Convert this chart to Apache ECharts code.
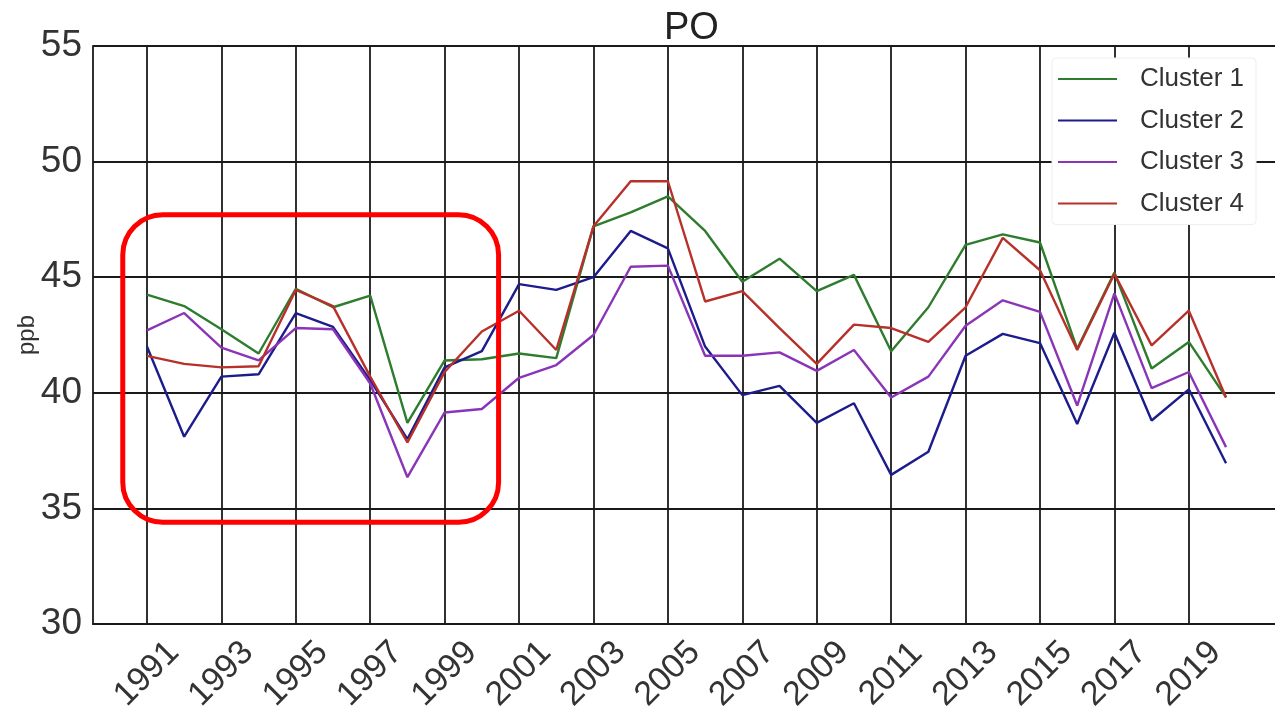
<!DOCTYPE html>
<html><head><meta charset="utf-8">
<script src="https://cdn.jsdelivr.net/npm/echarts@6/dist/echarts.min.js"></script>
<style>html,body{margin:0;padding:0;background:#fff}#c{width:1275px;height:706px}</style>
</head><body><div id="c"></div>
<script>
// ---- data ----
const years = [1991,1992,1993,1994,1995,1996,1997,1998,1999,2000,2001,2002,2003,2004,2005,2006,2007,2008,2009,2010,2011,2012,2013,2014,2015,2016,2017,2018,2019,2020];
const tickYears = [1991,1993,1995,1997,1999,2001,2003,2005,2007,2009,2011,2013,2015,2017,2019];
const yTicks = [30,35,40,45,50,55];
const seriesNames = ['Cluster 1','Cluster 2','Cluster 3','Cluster 4'];
const cluster1 = [44.25,43.75,42.75,41.7,44.5,43.7,44.2,38.7,41.4,41.45,41.7,41.5,47.2,47.8,48.5,47.0,44.8,45.8,44.4,45.1,41.8,43.7,46.4,46.85,46.5,41.9,45.2,41.05,42.2,39.8];
const cluster2 = [42.0,38.1,40.7,40.8,43.45,42.85,40.55,38.0,41.1,41.8,44.7,44.45,45.0,47.0,46.25,42.0,39.9,40.3,38.7,39.55,36.45,37.45,41.6,42.55,42.15,38.65,42.6,38.8,40.15,36.95];
const cluster3 = [42.7,43.45,41.95,41.4,42.8,42.75,40.4,36.35,39.15,39.3,40.65,41.2,42.5,45.45,45.5,41.6,41.6,41.75,40.95,41.85,39.8,40.7,42.9,44.0,43.5,39.45,44.3,40.2,40.9,37.65];
const cluster4 = [41.6,41.25,41.1,41.15,44.45,43.75,40.7,37.85,40.9,42.65,43.55,41.85,47.2,49.15,49.15,43.95,44.4,42.8,41.25,42.95,42.8,42.2,43.7,46.7,45.3,41.85,45.15,42.05,43.55,39.8];
const highlightYears = [1990.35, 2000.45];
const highlightValues = [34.4, 47.7];

const colors = ['#2e7d2e','#1c1c8c','#8a35b8','#b8302a'];
const FONT = 'Liberation Sans, Arial, sans-serif';
const allSeries = [cluster1, cluster2, cluster3, cluster4];

const chart = echarts.init(document.getElementById('c'), null, {renderer:'canvas'});
const option = {
  backgroundColor: '#fff',
  animation: false,
  title: {text: 'PO', left: 659, top: 5, textStyle: {fontSize: 38, fontWeight: 'normal', color: '#222', fontFamily: FONT}},
  legend: {
    orient: 'vertical', left: 1052, top: 58,
    icon: 'rect', itemWidth: 59, itemHeight: 2, itemGap: 11.5,
    padding: [6, 12, 6, 6],
    backgroundColor: '#fff', borderColor: '#eee', borderWidth: 1, borderRadius: 4,
    data: seriesNames,
    textStyle: {fontSize: 26, color: '#333', lineHeight: 30, padding: [0,0,0,18], fontFamily: FONT}
  },
  grid: {left: 93, top: 46, width: 1187, bottom: 82, containLabel: false, outerBoundsMode: 'none'},
  xAxis: {
    type: 'value', min: 1989.55, max: 2021.45,
    axisLine: {show: true, onZero: false, lineStyle: {color: '#1a1a1a', width: 1.8}},
    axisTick: {show: false, customValues: tickYears},
    axisLabel: {customValues: tickYears, rotate: 45, align: 'center', verticalAlign: 'middle', margin: 50,
      fontSize: 34, color: '#333', fontFamily: FONT, formatter: v => String(Math.round(v))},
    splitLine: {show: true, lineStyle: {color: '#1a1a1a', width: 1.8}}
  },
  yAxis: {
    type: 'value', min: yTicks[0], max: yTicks[yTicks.length-1], interval: 5,
    name: 'ppb', nameLocation: 'middle', nameGap: 54, nameMoveOverlap: false,
    nameTextStyle: {fontSize: 24, color: '#333', fontFamily: FONT},
    axisLine: {show: true, lineStyle: {color: '#1a1a1a', width: 1.8}},
    axisTick: {show: false},
    axisLabel: {fontSize: 37, color: '#333', margin: 11, fontFamily: FONT},
    splitLine: {show: true, lineStyle: {color: '#1a1a1a', width: 1.8}}
  },
  series: seriesNames.map((n, i) => ({
    name: n, type: 'line', showSymbol: false, symbol: 'none',
    color: colors[i],
    lineStyle: {width: 2.4, color: colors[i]},
    data: years.map((y, k) => [y, allSeries[i][k]])
  }))
};
chart.setOption(option);
const p1 = chart.convertToPixel({gridIndex: 0}, [highlightYears[0], highlightValues[1]]);
const p2 = chart.convertToPixel({gridIndex: 0}, [highlightYears[1], highlightValues[0]]);
chart.setOption({graphic: [{
  type: 'rect', z: 100,
  shape: {x: p1[0], y: p1[1], width: p2[0]-p1[0], height: p2[1]-p1[1], r: 40},
  style: {fill: 'none', stroke: '#ff0000', lineWidth: 5}
}]});
</script></body></html>
